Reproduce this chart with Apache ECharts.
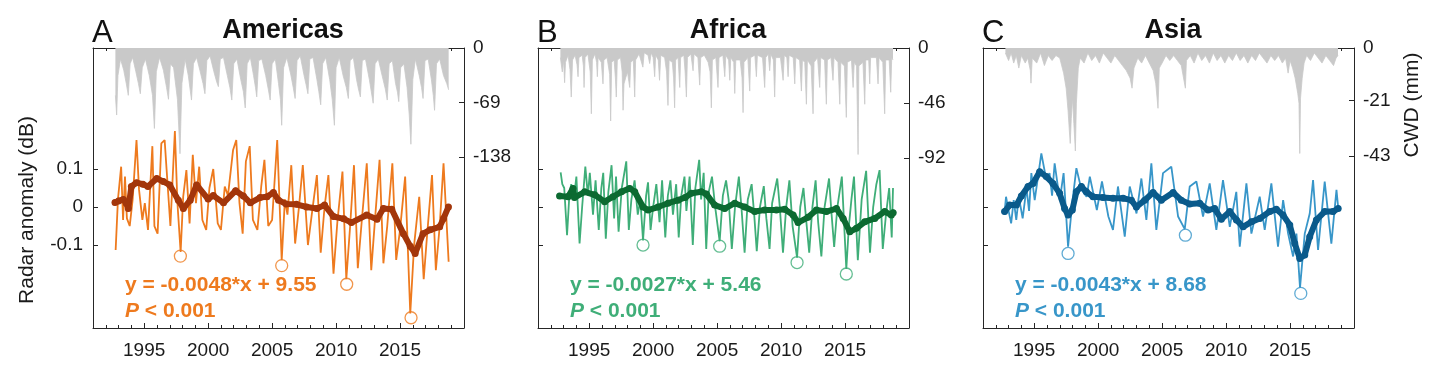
<!DOCTYPE html>
<html><head><meta charset="utf-8">
<script src="https://cdn.jsdelivr.net/npm/echarts@6/dist/echarts.min.js"></script>
<style>html,body{margin:0;padding:0;background:#fff}#c{width:1430px;height:373px}</style>
</head><body><div id="c"></div>
<script>
// ---------- data ----------
const panelLetters = ['A', 'B', 'C'];
const panelTitles = ['Americas', 'Africa', 'Asia'];
const xTickLabels = [1995, 2000, 2005, 2010, 2015];
const radarTicks = [-0.1, 0, 0.1];
const cwdTicksAm = [0, -69, -138];
const cwdTicksAf = [0, -46, -92];
const cwdTicksAs = [0, -21, -43];
const equations = ['y = -0.0048*x + 9.55', 'y = -0.0027*x + 5.46', 'y = -0.0043*x + 8.68'];

// Americas
const amRaw = [[1992.77,-0.113],[1992.95,0.02],[1993.2,0.106],[1993.35,-0.034],[1993.5,0.08],[1993.65,-0.03],[1993.87,-0.05],[1994.1,0.02],[1994.4,0.176],[1994.6,0.045],[1994.86,-0.034],[1995.05,0.01],[1995.3,-0.06],[1995.64,0.16],[1995.8,-0.05],[1996.05,-0.07],[1996.34,0.167],[1996.6,0.176],[1996.75,0.1],[1997.05,-0.05],[1997.4,0.2],[1997.6,0.01],[1997.85,-0.118],[1998.05,0.027],[1998.3,0.097],[1998.55,-0.043],[1998.8,0.137],[1999.05,0.01],[1999.3,0.106],[1999.55,-0.034],[1999.85,-0.06],[2000.1,0.05],[2000.4,0.1],[2000.75,-0.043],[2001.0,-0.06],[2001.3,0.054],[2001.55,0.03],[2001.95,0.15],[2002.2,0.176],[2002.45,0.01],[2002.7,-0.07],[2002.95,0.12],[2003.25,0.16],[2003.5,-0.034],[2003.85,-0.06],[2004.15,0.054],[2004.4,0.124],[2004.7,-0.05],[2005.0,-0.034],[2005.4,0.176],[2005.75,-0.14],[2006.0,0.02],[2006.2,-0.02],[2006.5,0.11],[2006.8,-0.096],[2007.1,0.0],[2007.4,0.11],[2007.8,-0.1],[2008.1,-0.02],[2008.5,0.084],[2008.8,-0.12],[2009.1,0.0],[2009.4,0.084],[2009.8,-0.175],[2010.1,-0.04],[2010.5,0.093],[2010.8,-0.19],[2011.1,-0.05],[2011.4,0.11],[2011.7,-0.161],[2012.0,-0.04],[2012.4,0.115],[2012.75,-0.166],[2013.05,-0.03],[2013.4,0.124],[2013.7,-0.148],[2014.0,-0.05],[2014.4,0.115],[2014.7,-0.139],[2015.0,-0.06],[2015.4,0.08],[2015.8,-0.28],[2016.1,-0.1],[2016.5,0.027],[2016.85,-0.19],[2017.1,-0.08],[2017.5,0.084],[2017.8,-0.166],[2018.1,-0.05],[2018.4,0.115],[2018.8,-0.144]];
const amSmooth = [[1992.72,0.012],[1993.0,0.016],[1993.37,0.02],[1993.6,0.01],[1993.76,-0.004],[1994.0,0.054],[1994.4,0.064],[1994.9,0.06],[1995.3,0.054],[1995.98,0.075],[1996.5,0.067],[1997.0,0.058],[1997.67,0.018],[1998.06,-0.004],[1998.6,0.018],[1999.1,0.058],[2000.0,0.021],[2000.4,0.03],[2001.2,0.011],[2002.15,0.043],[2002.75,0.029],[2003.3,0.011],[2004.06,0.025],[2004.6,0.027],[2005.1,0.038],[2005.5,0.018],[2006.1,0.008],[2006.9,0.007],[2007.7,0.0],[2008.5,-0.004],[2009.1,0.005],[2009.8,-0.025],[2010.6,-0.031],[2011.2,-0.041],[2012.4,-0.021],[2013.2,-0.032],[2013.7,-0.004],[2014.35,-0.006],[2015.26,-0.07],[2015.8,-0.103],[2016.18,-0.122],[2016.8,-0.07],[2017.35,-0.06],[2018.1,-0.052],[2018.4,-0.03],[2018.78,0.0]];
const amCircles = [[1997.83,-0.129],[2005.75,-0.154],[2010.83,-0.203],[2015.86,-0.291]];
const amCwd = [[1992.75,-60],[1992.85,-85],[1992.95,-35],[1993.15,-14],[1993.4,-28],[1993.6,-45],[1993.76,-60],[1993.9,-20],[1994.1,-12],[1994.35,-30],[1994.55,-45],[1994.7,-58],[1994.85,-25],[1995.1,-14],[1995.4,-35],[1995.65,-60],[1995.8,-102],[1995.95,-30],[1996.2,-12],[1996.5,-28],[1996.75,-50],[1996.9,-65],[1997.05,-20],[1997.3,-25],[1997.6,-65],[1997.8,-134],[1997.95,-45],[1998.2,-14],[1998.45,-35],[1998.7,-66],[1998.85,-20],[1999.1,-12],[1999.35,-28],[1999.6,-45],[1999.75,-58],[1999.9,-16],[2000.15,-10],[2000.45,-30],[2000.65,-42],[2000.8,-49],[2000.95,-14],[2001.2,-12],[2001.5,-35],[2001.7,-50],[2001.85,-66],[2002.0,-20],[2002.25,-14],[2002.55,-40],[2002.75,-55],[2002.9,-76],[2003.05,-20],[2003.3,-12],[2003.55,-35],[2003.7,-50],[2003.8,-62],[2003.95,-16],[2004.2,-14],[2004.5,-35],[2004.7,-52],[2004.85,-66],[2005.0,-20],[2005.25,-14],[2005.5,-45],[2005.65,-65],[2005.75,-98],[2005.9,-25],[2006.15,-12],[2006.45,-33],[2006.65,-50],[2006.8,-64],[2006.95,-16],[2007.2,-10],[2007.5,-35],[2007.65,-46],[2007.8,-58],[2007.95,-14],[2008.2,-12],[2008.5,-40],[2008.65,-55],[2008.8,-72],[2008.95,-20],[2009.2,-12],[2009.5,-40],[2009.7,-65],[2009.87,-98],[2010.0,-25],[2010.25,-12],[2010.55,-35],[2010.8,-50],[2010.96,-64],[2011.1,-16],[2011.35,-12],[2011.6,-40],[2011.75,-52],[2011.9,-62],[2012.05,-16],[2012.3,-14],[2012.6,-40],[2012.75,-55],[2012.9,-70],[2013.05,-20],[2013.3,-14],[2013.6,-35],[2013.85,-52],[2014.0,-66],[2014.15,-20],[2014.4,-16],[2014.65,-45],[2014.8,-56],[2014.9,-68],[2015.05,-25],[2015.3,-20],[2015.55,-50],[2015.72,-85],[2015.85,-122],[2016.0,-40],[2016.2,-14],[2016.5,-35],[2016.68,-50],[2016.8,-64],[2016.95,-16],[2017.2,-14],[2017.45,-40],[2017.6,-60],[2017.7,-79],[2017.85,-20],[2018.1,-14],[2018.4,-35],[2018.65,-45],[2018.8,-53]];

// Africa
const afRaw = [[1992.77,0.091],[1992.9,0.06],[1993.05,0.05],[1993.27,-0.074],[1993.45,0.03],[1993.6,0.06],[1993.8,0.02],[1994.0,0.08],[1994.25,-0.096],[1994.45,0.0],[1994.7,0.106],[1994.9,0.03],[1995.05,0.09],[1995.3,-0.02],[1995.5,0.07],[1995.75,-0.06],[1995.95,0.05],[1996.1,0.09],[1996.3,-0.083],[1996.5,0.04],[1996.75,0.11],[1996.95,-0.03],[1997.1,0.08],[1997.3,-0.065],[1997.55,0.05],[1997.9,0.12],[1998.1,-0.06],[1998.3,0.02],[1998.55,0.07],[1998.8,-0.02],[1999.0,0.02],[1999.21,-0.088],[1999.45,0.03],[1999.6,0.065],[1999.8,-0.06],[2000.0,0.0],[2000.25,0.06],[2000.5,-0.04],[2000.7,0.07],[2000.95,-0.08],[2001.15,0.03],[2001.35,0.07],[2001.55,-0.02],[2001.8,0.06],[2002.0,-0.08],[2002.2,0.03],[2002.45,0.08],[2002.6,-0.01],[2002.85,0.08],[2003.1,-0.1],[2003.3,0.05],[2003.6,0.124],[2003.75,0.02],[2003.95,0.09],[2004.15,-0.11],[2004.35,0.04],[2004.6,0.08],[2004.85,0.0],[2005.2,-0.09],[2005.45,0.03],[2005.7,0.07],[2005.9,0.02],[2006.15,-0.11],[2006.4,0.0],[2006.7,0.08],[2006.9,0.0],[2007.15,-0.12],[2007.4,0.02],[2007.7,0.06],[2007.9,-0.02],[2008.1,-0.116],[2008.35,0.0],[2008.65,0.055],[2008.85,-0.03],[2009.1,-0.11],[2009.3,0.01],[2009.7,0.075],[2009.9,0.0],[2010.15,-0.12],[2010.4,0.0],[2010.65,0.07],[2010.9,-0.05],[2011.25,-0.133],[2011.5,0.0],[2011.75,0.05],[2011.95,-0.03],[2012.2,-0.12],[2012.45,0.0],[2012.7,0.07],[2012.9,-0.04],[2013.15,-0.13],[2013.4,0.0],[2013.75,0.075],[2013.95,-0.02],[2014.15,-0.105],[2014.4,0.0],[2014.75,0.08],[2015.1,-0.163],[2015.3,-0.05],[2015.5,0.02],[2015.7,0.08],[2016.0,-0.14],[2016.3,0.02],[2016.65,0.095],[2016.95,-0.12],[2017.2,0.0],[2017.45,0.06],[2017.7,0.097],[2017.95,-0.11],[2018.2,-0.02],[2018.45,0.05],[2018.65,-0.08],[2018.75,0.05]];
const afSmooth = [[1992.69,0.029],[1993.35,0.027],[1993.74,0.049],[1993.85,0.025],[1994.65,0.04],[1995.43,0.032],[1996.21,0.014],[1996.86,0.027],[1997.52,0.04],[1998.17,0.049],[1998.56,0.04],[1999.21,0.0],[1999.6,-0.008],[2000.38,0.0],[2001.16,0.01],[2001.95,0.018],[2002.5,0.025],[2002.99,0.036],[2003.77,0.04],[2004.16,0.034],[2004.81,0.005],[2005.59,-0.004],[2006.38,0.01],[2007.16,0.0],[2007.94,-0.012],[2008.72,-0.008],[2009.63,-0.008],[2010.29,-0.006],[2010.94,-0.021],[2011.33,-0.041],[2012.11,-0.027],[2012.76,-0.008],[2013.54,-0.012],[2014.33,-0.004],[2014.85,-0.03],[2015.37,-0.065],[2015.89,-0.056],[2016.54,-0.039],[2017.32,-0.03],[2018.1,-0.012],[2018.62,-0.021],[2018.76,-0.015]];
const afCircles = [[1999.21,-0.1],[2005.2,-0.103],[2011.25,-0.146],[2015.1,-0.176]];
const afCwd = [[1992.75,-8],[1992.9,-20],[1993.0,-10],[1993.08,-29],[1993.15,-12],[1993.35,-6],[1993.5,-18],[1993.6,-41],[1993.7,-10],[1993.9,-6],[1994.05,-14],[1994.13,-24],[1994.2,-8],[1994.45,-6],[1994.55,-15],[1994.6,-33],[1994.68,-8],[1994.9,-5],[1995.08,-20],[1995.17,-55],[1995.25,-10],[1995.45,-5],[1995.58,-12],[1995.64,-24],[1995.7,-8],[1995.95,-12],[1996.08,-30],[1996.15,-10],[1996.4,-8],[1996.6,-22],[1996.68,-61],[1996.76,-12],[1996.95,-10],[1997.05,-25],[1997.12,-41],[1997.2,-10],[1997.45,-8],[1997.58,-20],[1997.65,-52],[1997.72,-30],[1997.85,-25],[1998.0,-20],[1998.1,-28],[1998.17,-33],[1998.25,-12],[1998.45,-10],[1998.56,-41],[1998.63,-10],[1998.9,-5],[1999.2,-16],[1999.3,-4],[1999.6,-6],[1999.73,-13],[1999.85,-4],[2000.0,-8],[2000.12,-24],[2000.2,-6],[2000.4,-10],[2000.5,-27],[2000.6,-6],[2000.9,-8],[2001.05,-20],[2001.16,-48],[2001.25,-10],[2001.5,-12],[2001.6,-25],[2001.68,-50],[2001.76,-10],[2001.95,-8],[2002.08,-33],[2002.15,-8],[2002.4,-6],[2002.5,-20],[2002.6,-41],[2002.68,-8],[2002.95,-5],[2003.12,-19],[2003.2,-5],[2003.5,-8],[2003.64,-31],[2003.72,-8],[2004.0,-6],[2004.3,-12],[2004.45,-20],[2004.55,-50],[2004.63,-10],[2004.9,-8],[2005.07,-33],[2005.15,-8],[2005.45,-6],[2005.6,-24],[2005.68,-6],[2005.9,-10],[2005.99,-27],[2006.07,-8],[2006.3,-12],[2006.38,-38],[2006.46,-10],[2006.8,-10],[2006.95,-25],[2007.03,-54],[2007.1,-12],[2007.4,-8],[2007.55,-36],[2007.62,-8],[2007.95,-6],[2008.07,-24],[2008.15,-6],[2008.55,-8],[2008.72,-33],[2008.8,-8],[2009.0,-5],[2009.11,-19],[2009.2,-5],[2009.4,-10],[2009.5,-41],[2009.58,-8],[2009.95,-8],[2010.16,-27],[2010.25,-6],[2010.45,-8],[2010.55,-24],[2010.63,-6],[2010.95,-8],[2011.07,-30],[2011.15,-8],[2011.45,-10],[2011.59,-36],[2011.67,-10],[2011.85,-12],[2011.98,-47],[2012.06,-10],[2012.35,-15],[2012.5,-55],[2012.58,-12],[2012.85,-8],[2013.02,-33],[2013.1,-8],[2013.4,-10],[2013.54,-47],[2013.62,-10],[2013.9,-8],[2014.06,-27],[2014.14,-8],[2014.45,-12],[2014.59,-47],[2014.67,-12],[2014.95,-15],[2015.1,-58],[2015.18,-12],[2015.5,-10],[2015.63,-33],[2015.72,-12],[2015.9,-15],[2016.02,-89],[2016.08,-15],[2016.4,-12],[2016.54,-47],[2016.62,-10],[2016.85,-10],[2016.93,-30],[2017.0,-8],[2017.45,-8],[2017.58,-30],[2017.66,-8],[2017.95,-12],[2018.1,-55],[2018.18,-10],[2018.45,-10],[2018.57,-37],[2018.65,-8],[2018.75,-10]];

// Asia
const asRaw = [[1992.69,-0.012],[1992.8,0.027],[1993.0,-0.01],[1993.2,-0.043],[1993.4,0.018],[1993.6,-0.034],[1993.8,0.027],[1994.1,-0.03],[1994.4,0.05],[1994.6,-0.01],[1994.78,0.089],[1995.04,0.018],[1995.56,0.141],[1995.95,0.071],[1996.2,0.089],[1996.4,0.03],[1996.6,0.115],[1997.0,0.018],[1997.3,0.089],[1997.65,-0.104],[1998.0,0.018],[1998.3,0.102],[1998.7,0.045],[1999.1,0.027],[1999.35,0.08],[1999.9,-0.008],[2000.3,0.067],[2000.8,-0.025],[2001.16,-0.06],[2001.55,0.054],[2002.08,-0.078],[2002.47,0.054],[2003.0,-0.017],[2003.38,0.075],[2003.77,-0.034],[2004.16,0.115],[2004.55,-0.06],[2005.07,0.089],[2005.72,0.106],[2006.25,-0.025],[2006.77,-0.058],[2007.16,0.054],[2007.68,0.067],[2008.2,-0.025],[2008.72,0.062],[2009.24,-0.06],[2009.76,0.071],[2010.29,-0.052],[2010.8,0.04],[2011.07,-0.104],[2011.59,0.062],[2011.98,-0.07],[2012.63,0.027],[2013.02,-0.06],[2013.54,0.062],[2014.06,-0.104],[2014.46,0.018],[2014.85,-0.07],[2015.24,-0.13],[2015.5,-0.07],[2015.78,-0.212],[2016.15,-0.07],[2016.54,-0.017],[2016.8,0.071],[2017.19,-0.113],[2017.71,0.067],[2018.23,-0.096],[2018.63,0.045],[2018.76,0.0]];
const asSmooth = [[1992.69,-0.012],[1993.08,0.005],[1993.61,0.005],[1994.0,0.029],[1994.52,0.054],[1994.91,0.062],[1995.43,0.093],[1995.95,0.08],[1996.47,0.062],[1996.99,0.036],[1997.38,-0.004],[1997.65,-0.021],[1997.98,-0.008],[1998.3,0.04],[1998.69,0.054],[1999.08,0.04],[1999.6,0.027],[2000.38,0.025],[2001.16,0.023],[2001.95,0.023],[2002.6,0.018],[2002.99,0.0],[2003.64,0.018],[2004.29,0.038],[2004.94,0.018],[2005.86,0.038],[2006.5,0.018],[2007.16,0.008],[2007.94,0.01],[2008.59,-0.008],[2009.11,-0.004],[2009.63,-0.032],[2010.29,-0.012],[2010.81,-0.034],[2011.33,-0.052],[2011.98,-0.039],[2012.63,-0.03],[2013.41,-0.012],[2013.93,-0.006],[2014.45,-0.021],[2014.98,-0.047],[2015.37,-0.096],[2015.76,-0.135],[2016.15,-0.126],[2016.54,-0.078],[2017.06,-0.034],[2017.71,-0.012],[2018.36,-0.012],[2018.76,-0.004]];
const asCircles = [[1997.65,-0.122],[2006.82,-0.074],[2015.84,-0.227]];
const asCwd = [[1992.75,-2],[1993.0,-5],[1993.2,-2],[1993.4,-6],[1993.6,-3],[1993.8,-8],[1994.0,-3],[1994.3,-6],[1994.5,-4],[1994.7,-9],[1994.75,-14],[1994.85,-4],[1995.2,-6],[1995.5,-2],[1995.8,-7],[1996.1,-3],[1996.4,-5],[1996.7,-3],[1997.0,-4],[1997.3,-10],[1997.5,-16],[1997.65,-25],[1997.75,-33],[1997.82,-38],[1997.9,-28],[1998.0,-20],[1998.1,-30],[1998.22,-41],[1998.3,-22],[1998.45,-8],[1998.6,-4],[1998.9,-6],[1999.2,-2],[1999.5,-5],[1999.8,-3],[2000.1,-6],[2000.4,-2],[2000.7,-4],[2001.0,-6],[2001.3,-3],[2001.6,-5],[2001.9,-7],[2002.2,-9],[2002.5,-12],[2002.65,-16],[2002.8,-8],[2003.1,-4],[2003.4,-6],[2003.7,-3],[2004.0,-6],[2004.3,-9],[2004.5,-14],[2004.68,-24],[2004.78,-8],[2005.0,-6],[2005.3,-3],[2005.6,-5],[2005.9,-3],[2006.2,-5],[2006.5,-7],[2006.82,-16],[2006.9,-5],[2007.2,-3],[2007.5,-6],[2007.8,-2],[2008.1,-5],[2008.4,-3],[2008.7,-6],[2009.0,-2],[2009.3,-5],[2009.6,-3],[2009.9,-6],[2010.2,-3],[2010.5,-5],[2010.8,-2],[2011.1,-5],[2011.4,-3],[2011.7,-6],[2012.0,-3],[2012.3,-5],[2012.6,-2],[2012.9,-4],[2013.2,-6],[2013.5,-3],[2013.8,-5],[2014.1,-3],[2014.4,-6],[2014.65,-4],[2014.85,-10],[2015.0,-5],[2015.2,-8],[2015.4,-12],[2015.6,-18],[2015.7,-22],[2015.76,-42],[2015.82,-20],[2015.95,-12],[2016.1,-6],[2016.3,-3],[2016.6,-5],[2016.9,-2],[2017.2,-4],[2017.5,-6],[2017.8,-3],[2018.1,-5],[2018.4,-7],[2018.6,-4],[2018.75,-3]];

// ---------- chart ----------
const FONT = '"Liberation Sans", Arial, Helvetica, sans-serif';
const AXIS = '#262626';
const TXT = '#1a1a1a';
const GRAY = '#c9c9c9';
const panels = [
  {raw: amRaw, smooth: amSmooth, circles: amCircles, cwd: amCwd, cwdTicks: cwdTicksAm, cwdMin: -355, rawColor: '#ee7a1e', smColor: '#a3360b'},
  {raw: afRaw, smooth: afSmooth, circles: afCircles, cwd: afCwd, cwdTicks: cwdTicksAf, cwdMin: -234, rawColor: '#3fae78', smColor: '#0c6a31'},
  {raw: asRaw, smooth: asSmooth, circles: asCircles, cwd: asCwd, cwdTicks: cwdTicksAs, cwdMin: -111.5, rawColor: '#3896c9', smColor: '#0a5a8b'}
];
const gridLeft = [93, 538, 983];
const GW = 371, GT = 48, GH = 280;

const grid = [], xAxis = [], yAxis = [], series = [], graphic = [];
panels.forEach((p, i) => {
  grid.push({left: gridLeft[i], top: GT, width: GW, height: GH, containLabel: false});
  xAxis.push({type: 'value', gridIndex: i, position: 'bottom', min: 1991, max: 2020,
    axisLine: {show: true, onZero: false, lineStyle: {color: AXIS, width: 1}},
    axisTick: {show: true, inside: true, length: 5, customValues: xTickLabels, lineStyle: {color: AXIS}},
    axisLabel: {show: true, customValues: xTickLabels, fontSize: 19, fontFamily: FONT, color: TXT, margin: 13,
      formatter: v => String(v)},
    splitLine: {show: false}});
  xAxis.push({type: 'value', gridIndex: i, position: 'bottom', min: 1991, max: 2020, interval: 1,
    axisLine: {show: false, onZero: false}, axisTick: {show: true, inside: true, length: 3, lineStyle: {color: AXIS}},
    axisLabel: {show: false}, splitLine: {show: false}});
  xAxis.push({type: 'value', gridIndex: i, position: 'top', min: 1991, max: 2020, interval: 1,
    axisLine: {show: true, onZero: false, lineStyle: {color: AXIS, width: 1}},
    axisTick: {show: true, inside: true, length: 3, lineStyle: {color: AXIS}},
    axisLabel: {show: false}, splitLine: {show: false}});
  yAxis.push({type: 'value', gridIndex: i, position: 'left', min: -0.318, max: 0.418,
    axisLine: {show: true, onZero: false, lineStyle: {color: AXIS, width: 1}},
    axisTick: {show: true, inside: true, length: 5, customValues: radarTicks, lineStyle: {color: AXIS}},
    axisLabel: {show: i === 0, customValues: radarTicks, fontSize: 19, fontFamily: FONT, color: TXT, margin: 10,
      formatter: v => String(Math.round(v * 10) / 10)},
    splitLine: {show: false}});
  yAxis.push({type: 'value', gridIndex: i, position: 'right', min: p.cwdMin, max: 0,
    axisLine: {show: true, onZero: false, lineStyle: {color: AXIS, width: 1}},
    axisTick: {show: true, inside: true, length: 5, customValues: p.cwdTicks, lineStyle: {color: AXIS}},
    axisLabel: {show: true, customValues: p.cwdTicks, fontSize: 19, fontFamily: FONT, color: TXT, margin: 9},
    splitLine: {show: false}});

  series.push({type: 'line', xAxisIndex: 3 * i, yAxisIndex: 2 * i + 1, data: p.cwd, showSymbol: false,
    lineStyle: {color: GRAY, width: 0.8}, areaStyle: {color: GRAY, opacity: 1}, z: 1, silent: true, animation: false});
  series.push({type: 'line', xAxisIndex: 3 * i, yAxisIndex: 2 * i, data: p.raw, showSymbol: false,
    lineStyle: {color: p.rawColor, width: 1.8}, z: 3, silent: true, animation: false});
  series.push({type: 'line', xAxisIndex: 3 * i, yAxisIndex: 2 * i, data: p.smooth, showSymbol: true,
    symbol: 'circle', symbolSize: 7, itemStyle: {color: p.smColor},
    lineStyle: {color: p.smColor, width: 6, cap: 'round', join: 'round'}, z: 4, silent: true, animation: false});
  series.push({type: 'scatter', xAxisIndex: 3 * i, yAxisIndex: 2 * i, data: p.circles, symbol: 'circle', symbolSize: 12,
    itemStyle: {color: 'rgba(0,0,0,0)', borderColor: p.rawColor, borderWidth: 1.3}, z: 5, silent: true, animation: false});

  graphic.push({type: 'text', x: gridLeft[i] - 1, y: 33, style: {text: panelLetters[i], fill: '#111', font: '31px ' + FONT, align: 'left', verticalAlign: 'middle'}});
  graphic.push({type: 'text', x: gridLeft[i] + 190, y: 31, style: {text: panelTitles[i], fill: '#111', font: 'bold 27px ' + FONT, align: 'center', verticalAlign: 'middle'}});
  graphic.push({type: 'text', x: gridLeft[i] + 32, y: 285, style: {text: equations[i], fill: p.rawColor, font: 'bold 21px ' + FONT, align: 'left', verticalAlign: 'middle'}});
  graphic.push({type: 'text', x: gridLeft[i] + 32, y: 311, style: {text: '{i|P}{n| < 0.001}', fill: p.rawColor, font: 'bold 21px ' + FONT, align: 'left', verticalAlign: 'middle',
    rich: {i: {font: 'italic bold 21px ' + FONT, fill: p.rawColor}, n: {font: 'bold 21px ' + FONT, fill: p.rawColor}}}});
});
graphic.push({type: 'text', x: 27, y: 210, rotation: Math.PI / 2, style: {text: 'Radar anomaly (dB)', fill: TXT, font: '21px ' + FONT, align: 'center', verticalAlign: 'middle'}});
graphic.push({type: 'text', x: 1412, y: 105, rotation: Math.PI / 2, style: {text: 'CWD (mm)', fill: TXT, font: '21px ' + FONT, align: 'center', verticalAlign: 'middle'}});

const chart = echarts.init(document.getElementById('c'), null, {renderer: 'canvas'});
chart.setOption({backgroundColor: '#fff', animation: false, grid, xAxis, yAxis, series, graphic});
</script></body></html>
